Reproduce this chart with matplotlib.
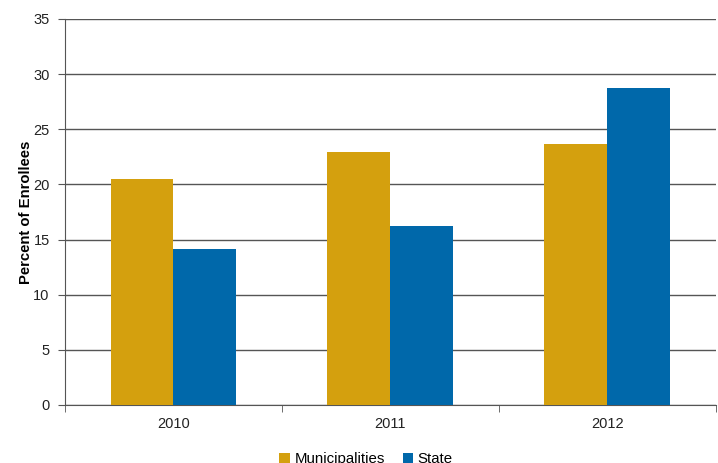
import matplotlib.pyplot as plt
import numpy as np

plt.rcParams['font.family'] = ['Liberation Sans', 'DejaVu Sans']

years = ['2010', '2011', '2012']
municipalities = [20.5, 22.9, 23.7]
state = [14.1, 16.2, 28.7]

gold = '#D4A00E'
blue = '#0068AA'

fig = plt.figure(figsize=(7.18, 4.63), dpi=100)
ax = fig.add_axes([0.0905, 0.1253, 0.9065, 0.8337])

x = np.arange(len(years))
w = 0.29
ax.bar(x - w / 2, municipalities, w, color=gold, label='Municipalities', zorder=3)
ax.bar(x + w / 2, state, w, color=blue, label='State', zorder=3)

ax.set_xlim(-0.5, len(years) - 0.5)
ax.set_ylim(0, 35)
ax.set_yticks(range(0, 36, 5))
ax.yaxis.grid(True, color='#555555', linewidth=1)
ax.set_axisbelow(True)

# category labels centred, ticks at the boundaries
ax.set_xticks(x)
ax.set_xticklabels(years, fontsize=10.5, color='#222222')
ax.set_xticks(np.arange(-0.5, len(years), 1), minor=True)
ax.tick_params(axis='x', which='major', length=0, pad=9)
ax.tick_params(axis='x', which='minor', length=5, color='#555555', direction='out')
ax.tick_params(axis='y', length=5, color='#555555', labelsize=10.5, labelcolor='#222222', pad=6)

for s in ['top', 'right']:
    ax.spines[s].set_visible(False)
for s in ['left', 'bottom']:
    ax.spines[s].set_color('#555555')

ax.set_ylabel('Percent of Enrollees', fontsize=10.7, fontweight='bold', labelpad=0)

fig.legend(loc='center', bbox_to_anchor=(0.51, 0.008), ncol=2, frameon=False,
           fontsize=10.8, handlelength=0.7, handleheight=0.7, handletextpad=0.3,
           columnspacing=1.2)

fig.savefig('out.png', dpi=100)
